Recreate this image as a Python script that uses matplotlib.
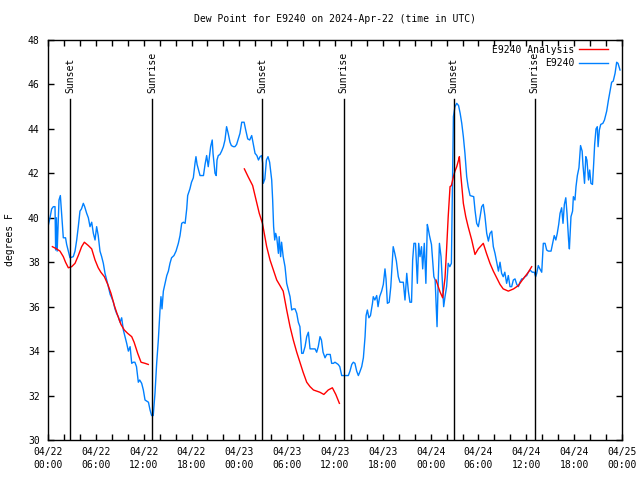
import numpy as np
import matplotlib
matplotlib.use("Agg")
import matplotlib.pyplot as plt

plt.rcParams['font.family'] = 'DejaVu Sans Mono'
plt.rcParams['font.size'] = 7

# hours since 2024-04-22 00:00 UTC
obs_hours = [0.0, 0.25, 0.46, 0.67, 0.88, 0.96, 1.05, 1.15, 1.38, 1.55, 1.71, 1.92, 2.2, 2.34, 2.55, 2.76,
             3.17, 3.39, 3.6, 3.8, 4.01, 4.2, 4.43, 4.6, 4.85, 5.06, 5.27, 5.48, 5.69, 5.9, 6.1, 6.3,
             6.52, 6.73, 6.94, 7.15, 7.36, 7.57, 7.8, 7.99, 8.2, 8.4, 8.6, 8.82, 9.03, 9.24, 9.45, 9.66,
             9.87, 10.08, 10.3, 10.5, 10.7, 10.9, 11.1, 11.33, 11.5, 11.75, 11.96, 12.17, 12.6, 12.8, 13.0, 13.2,
             13.42, 13.63, 13.84, 14.05, 14.17, 14.3, 14.47, 14.68, 14.9, 15.1, 15.3, 15.5, 15.8, 16.06, 16.35, 16.56,
             16.77, 16.98, 17.2, 17.4, 17.52, 17.7, 17.8, 18.0, 18.23, 18.44, 18.56, 18.7, 18.85, 19.07, 19.5, 19.7,
             19.9, 20.1, 20.2, 20.4, 20.6, 20.7, 20.95, 21.1, 21.2, 21.36, 21.57, 21.78, 22.0, 22.2, 22.4, 22.6,
             22.83, 23.0, 23.25, 23.45, 23.66, 23.87, 24.08, 24.3, 24.6, 24.8, 25.05, 25.3, 25.55, 25.76, 25.97, 26.2,
             26.4, 26.6, 26.8, 26.93, 27.0, 27.2, 27.4, 27.6, 27.8, 28.06, 28.18, 28.3, 28.44, 28.56, 28.7, 28.9,
             29.0, 29.18, 29.3, 29.5, 29.73, 29.94, 30.15, 30.36, 30.57, 30.78, 30.99, 31.2, 31.4, 31.6, 31.82, 32.0,
             32.24, 32.45, 32.66, 32.87, 33.08, 33.5, 33.7, 33.9, 34.12, 34.3, 34.5, 34.75, 34.96, 35.4, 35.58, 35.8,
             36.0, 36.2, 36.4, 36.6, 36.84, 37.25, 37.67, 37.88, 38.1, 38.3, 38.5, 38.72, 38.93, 39.1, 39.35, 39.56,
             39.77, 39.9, 40.06, 40.25, 40.45, 40.7, 40.8, 41.0, 41.23, 41.4, 41.6, 41.85, 42.06, 42.27, 42.4, 42.57,
             42.8, 43.0, 43.15, 43.3, 43.5, 43.7, 43.94, 44.15, 44.57, 44.78, 45.0, 45.2, 45.4, 45.6, 45.74, 45.9,
             46.1, 46.33, 46.5, 46.66, 46.85, 47.0, 47.2, 47.4, 47.58, 47.7, 47.85, 48.1, 48.4, 48.56, 48.75, 48.8,
             48.97, 49.1, 49.3, 49.5, 49.63, 49.8, 50.0, 50.2, 50.4, 50.6, 50.85, 51.05, 51.27, 51.5, 51.7, 51.9,
             52.1, 52.3, 52.52, 52.7, 52.94, 53.4, 53.56, 53.77, 53.98, 54.2, 54.4, 54.6, 54.8, 55.03, 55.24, 55.45,
             55.66, 55.86, 56.07, 56.28, 56.5, 56.7, 56.9, 57.1, 57.3, 57.53, 57.74, 57.95, 58.16, 58.37, 58.58, 58.8,
             59.0, 59.2, 59.42, 59.6, 59.84, 60.05, 60.25, 60.46, 60.75, 61.0, 61.17, 61.3, 61.5, 61.7, 61.93, 62.13,
             62.35, 62.55, 62.76, 63.1, 63.3, 63.5, 63.7, 63.88, 64.06, 64.23, 64.43, 64.6, 64.77, 64.95, 65.1, 65.3,
             65.4, 65.6, 65.8, 65.9, 66.1, 66.23, 66.4, 66.6, 66.8, 67.0, 67.1, 67.3, 67.46, 67.6, 67.8, 67.95,
             68.1, 68.3, 68.45, 68.57, 68.74, 68.9, 69.0, 69.16, 69.33, 69.6, 69.8, 70.08, 70.3, 70.5, 70.7, 70.9,
             71.13, 71.33, 71.5, 71.75]
obs_dewpt = [39.6, 40.0, 40.4, 40.5, 40.5, 38.55, 40.0, 38.5, 40.8, 41.0, 40.2, 39.1, 39.1, 38.8, 38.5, 38.2,
             38.25, 38.5, 39.0, 39.6, 40.3, 40.4, 40.65, 40.5, 40.2, 40.0, 39.6, 39.8, 39.3, 39.0, 39.6, 39.2,
             38.5, 38.25, 37.95, 37.5, 37.2, 36.9, 36.55, 36.4, 36.2, 35.9, 35.7, 35.55, 35.3, 35.5, 34.95, 34.65,
             34.35, 34.0, 34.2, 33.45, 33.5, 33.5, 33.3, 32.6, 32.7, 32.55, 32.25, 31.8, 31.7, 31.35, 31.1, 31.1,
             32.1, 33.45, 34.5, 35.85, 36.45, 35.9, 36.7, 37.05, 37.4, 37.6, 37.95, 38.2, 38.3, 38.5, 38.85, 39.2,
             39.75, 39.8, 39.75, 40.4, 41.0, 41.2, 41.3, 41.6, 41.8, 42.45, 42.75, 42.4, 42.2, 41.9, 41.9, 42.4,
             42.8, 42.3, 42.6, 43.2, 43.5, 42.9, 42.0, 41.9, 42.6, 42.8, 42.85, 43.0, 43.2, 43.5, 44.1, 43.8,
             43.4, 43.25, 43.2, 43.2, 43.3, 43.55, 43.8, 44.3, 44.3, 43.95, 43.55, 43.5, 43.7, 43.3, 42.9, 42.8,
             42.6, 42.75, 42.8, 42.45, 41.55, 41.75, 42.6, 42.75, 42.5, 41.7, 40.8, 39.6, 39.0, 39.3, 39.1, 38.4,
             39.15, 38.25, 38.9, 38.25, 37.8, 37.05, 36.75, 36.45, 35.85, 35.9, 35.9, 35.7, 35.3, 35.1, 33.9, 33.9,
             34.2, 34.65, 34.85, 34.1, 34.1, 34.1, 33.95, 34.2, 34.65, 34.5, 33.95, 33.7, 33.85, 33.85, 33.45, 33.45,
             33.5, 33.45, 33.4, 33.3, 32.9, 32.9, 32.9, 33.1, 33.4, 33.5, 33.45, 33.1, 32.9, 33.05, 33.3, 33.7,
             34.65, 35.6, 35.85, 35.5, 35.6, 36.15, 36.45, 36.3, 36.5, 36.0, 36.45, 36.7, 37.0, 37.7, 37.25, 36.15,
             36.2, 36.9, 37.8, 38.7, 38.4, 38.05, 37.35, 37.1, 37.1, 36.3, 37.5, 36.7, 36.2, 36.2, 38.1, 38.85,
             38.85, 37.05, 38.85, 38.25, 38.7, 37.7, 38.85, 37.05, 39.7, 39.5, 39.2, 38.8, 37.35, 37.2, 35.55, 35.1,
             37.45, 38.85, 38.25, 36.9, 36.0, 36.45, 36.9, 37.95, 37.8, 37.95, 44.55, 45.0, 45.15, 45.05, 44.7, 44.25,
             43.65, 42.9, 41.85, 41.4, 41.0, 40.95, 40.35, 39.75, 39.6, 40.05, 40.5, 40.6, 40.1, 39.3, 38.95, 39.3,
             39.4, 38.7, 38.4, 38.0, 37.6, 38.0, 37.5, 37.35, 37.55, 37.05, 37.4, 36.9, 36.9, 37.2, 37.25, 37.0,
             36.9, 37.1, 37.25, 37.25, 37.35, 37.4, 37.55, 37.65, 37.55, 37.55, 37.35, 37.5, 37.85, 37.7, 37.55, 38.85,
             38.85, 38.55, 38.5, 38.5, 38.85, 39.2, 39.0, 39.3, 39.7, 40.2, 40.45, 39.75, 40.6, 40.9, 40.2, 39.0,
             38.6, 40.05, 40.3, 40.95, 40.8, 41.4, 41.9, 42.25, 43.25, 43.0, 42.4, 41.55, 42.75, 42.6, 41.7, 42.15,
             41.55, 41.5, 42.45, 43.3, 44.0, 44.1, 43.2, 43.95, 44.2, 44.25, 44.4, 44.8, 45.3, 45.7, 46.1, 46.15,
             46.5, 47.0, 46.95, 46.65]

# analysis, nan = gap
ana_hours = [0.55, 1.08, 1.5, 1.92, 2.2, 2.55, 2.97, 3.39, 3.8, 4.22, 4.56, 5.06, 5.48, 5.9, 6.3, 6.63,
             7.07, 7.5, 7.9, 8.32, 8.74, 9.15, 9.57, 9.99, 10.5, 10.8, 11.25, 11.67, 12.17, 12.58, 18.0,
             24.63, 25.1, 25.67, 26.1, 26.5, 26.9, 27.43, 27.85, 28.27, 28.69, 29.1, 29.5, 29.94, 30.36, 30.77, 31.2,
             31.6, 32.0, 32.45, 32.87, 33.3, 33.7, 34.1, 34.6, 35.15, 35.67, 36.1, 36.55, 42.0,
             48.67, 49.17, 49.5, 49.8, 50.0, 50.2, 50.43, 50.6, 50.85, 51.05, 51.27, 51.5, 51.6, 51.8, 52.1, 52.4,
             52.7, 53.15, 53.56, 53.97, 54.6, 55.0, 55.44, 55.86, 56.28, 56.7, 57.1, 57.74, 58.4, 59.0, 59.6, 60.25,
             60.67]
ana_dewpt = [38.7, 38.6, 38.5, 38.25, 38.0, 37.75, 37.8, 37.95, 38.3, 38.7, 38.9, 38.75, 38.6, 38.1, 37.75, 37.55,
             37.35, 37.0, 36.6, 36.05, 35.6, 35.2, 34.95, 34.8, 34.65, 34.4, 33.9, 33.5, 33.45, 33.4, np.nan,
             42.2, 41.85, 41.45, 40.8, 40.2, 39.75, 38.7, 38.1, 37.65, 37.2, 36.95, 36.7, 35.85, 35.1, 34.5, 33.95,
             33.5, 33.05, 32.6, 32.4, 32.25, 32.2, 32.15, 32.05, 32.25, 32.35, 32.05, 31.65, np.nan,
             37.2, 36.67, 36.4, 37.3, 38.6, 40.05, 41.4, 41.45, 41.85, 42.1, 42.3, 42.6, 42.75, 41.85, 40.65, 40.05,
             39.6, 39.0, 38.35, 38.6, 38.85, 38.4, 37.95, 37.6, 37.3, 37.0, 36.8, 36.7, 36.8, 36.95, 37.25, 37.55,
             37.8]

sun_hours = [2.80, 13.10, 26.85, 37.07, 50.87, 61.05]
sun_labels = ['Sunset', 'Sunrise', 'Sunset', 'Sunrise', 'Sunset', 'Sunrise']

tick_hours = list(range(0, 73, 6))
tick_labels = ['04/22\n00:00', '04/22\n06:00', '04/22\n12:00', '04/22\n18:00',
               '04/23\n00:00', '04/23\n06:00', '04/23\n12:00', '04/23\n18:00',
               '04/24\n00:00', '04/24\n06:00', '04/24\n12:00', '04/24\n18:00',
               '04/25\n00:00']

fig = plt.figure(figsize=(6.4, 4.8), dpi=100)
ax = fig.add_axes([48/640, 40/480, 574/640, 400/480])

blue, = ax.plot(obs_hours, obs_dewpt, color='#0080ff', lw=1.0)
red, = ax.plot(ana_hours, ana_dewpt, color='#ff0000', lw=1.0)

# sunrise / sunset markers
trans = ax.get_xaxis_transform()
for h, lab in zip(sun_hours, sun_labels):
    ax.plot([h, h], [0, 0.853], transform=trans, color='black', lw=1.0)
    ax.text(h, 0.868, lab, rotation=90, ha='center', va='bottom', transform=trans)

ax.set_xlim(0, 72)
ax.set_ylim(30, 48)
ax.set_xticks(tick_hours)
ax.set_xticklabels(tick_labels)
ax.set_xticks(range(0, 73, 2), minor=True)
ax.set_yticks(range(30, 49, 2))
for t in ax.get_xticklabels():
    t.set_linespacing(1.35)
ax.tick_params(which='both', direction='in', length=4, width=1, top=True, right=True)
ax.tick_params(axis='x', pad=5)
ax.tick_params(axis='y', pad=6)
for s in ax.spines.values():
    s.set_linewidth(1)

fig.text(335/640, 1 - 19/480, 'Dew Point for E9240 on 2024-Apr-22 (time in UTC)',
         ha='center', va='center')
fig.text(10/640, 0.5, 'degrees F', rotation=90, ha='center', va='center')

ax.legend([red, blue], ['E9240 Analysis', 'E9240'], loc='upper right',
          bbox_to_anchor=(1 - 9/574, 1.0), frameon=False, markerfirst=False,
          handlelength=3.0, borderpad=0, labelspacing=0.35, handletextpad=0.45)

fig.savefig('out.png', dpi=100)
